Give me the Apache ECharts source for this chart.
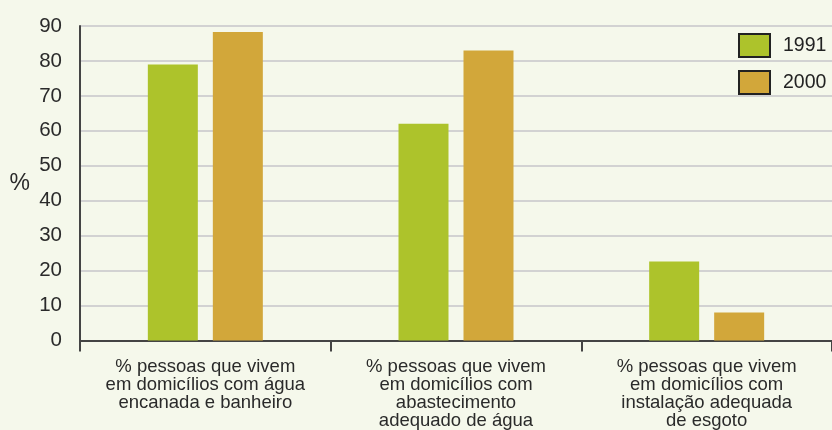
<!DOCTYPE html>
<html>
<head>
<meta charset="utf-8">
<script src="https://cdn.jsdelivr.net/npm/echarts@6/dist/echarts.min.js"></script>
<style>
  html, body { margin: 0; padding: 0; background: #f5f8eb; }
  #chart { width: 832px; height: 430px; }
</style>
</head>
<body>
<div id="chart"></div>
<script>
// dados
const categorias = [
  '% pessoas que vivem\nem domicílios com água\nencanada e banheiro',
  '% pessoas que vivem\nem domicílios com\nabastecimento\nadequado de água',
  '% pessoas que vivem\nem domicílios com\ninstalação adequada\nde esgoto'
]
const valores1991 = [79, 62, 22.6]
const valores2000 = [88.3, 83, 8]
const ticksY = [0, 10, 20, 30, 40, 50, 60, 70, 80, 90]

const chart = echarts.init(document.getElementById('chart'))
const fonte = 'Liberation Sans, Arial, sans-serif'

chart.setOption({
  backgroundColor: '#f5f8eb',
  animation: false,
  textStyle: { fontFamily: fonte },
  grid: { left: 80, right: -3, top: 26, bottom: 89 },
  legend: {
    orient: 'vertical',
    left: 738,
    top: 33,
    padding: 0,
    itemWidth: 31,
    itemHeight: 23,
    itemGap: 12,
    icon: 'rect',
    itemStyle: { borderColor: '#222', borderWidth: 2 },
    textStyle: { fontSize: 19.5, color: '#222', padding: [0, 0, 0, 8] },
    data: ['1991', '2000']
  },
  xAxis: {
    type: 'category',
    data: categorias,
    axisLine: { lineStyle: { color: '#444', width: 2 } },
    axisTick: { show: true, interval: 0, length: 11, lineStyle: { color: '#444', width: 2 } },
    axisLabel: {
      interval: 0,
      fontSize: 18.5,
      lineHeight: 18,
      color: '#2a2a2a',
      margin: 17
    }
  },
  yAxis: {
    type: 'value',
    min: ticksY[0],
    max: ticksY[ticksY.length - 1],
    interval: 10,
    name: '%',
    nameLocation: 'middle',
    nameRotate: 0,
    nameGap: 50,
    nameTextStyle: { fontSize: 23, color: '#2a2a2a' },
    axisLine: { show: true, lineStyle: { color: '#444', width: 2 } },
    axisTick: { show: false },
    axisLabel: { fontSize: 20.5, color: '#2a2a2a', margin: 18 },
    splitLine: { lineStyle: { color: '#d2d2d2', width: 2 } }
  },
  series: [
    {
      name: '1991',
      type: 'bar',
      barWidth: 50,
      barGap: '30%',
      itemStyle: { color: '#adc32b' },
      data: valores1991
    },
    {
      name: '2000',
      type: 'bar',
      barWidth: 50,
      barGap: '30%',
      itemStyle: { color: '#d2a73a' },
      data: valores2000
    }
  ]
})
</script>
</body>
</html>
